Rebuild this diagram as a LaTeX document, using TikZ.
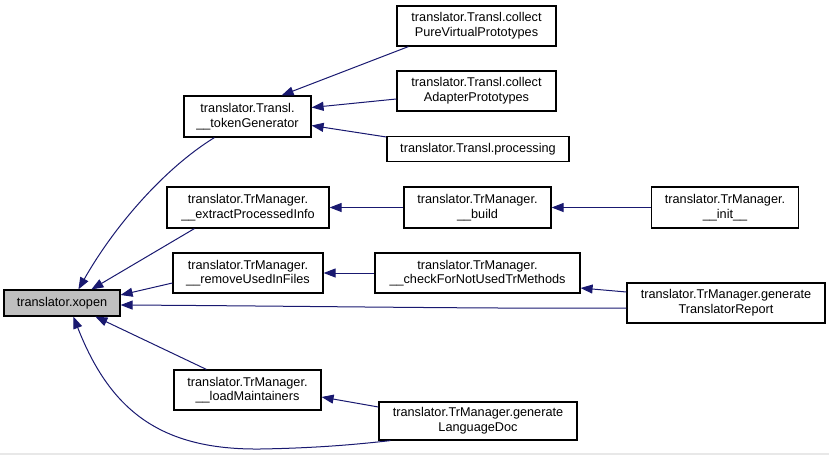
\documentclass[tikz,border=0pt]{standalone}
\usepackage{fontspec}
\setmainfont{Liberation Sans}
\usetikzlibrary{arrows.meta,calc}
\definecolor{edgecol}{HTML}{191970}
\definecolor{xfill}{HTML}{BFBFBF}
\definecolor{strip}{HTML}{E8E8E8}
\begin{document}
\begin{tikzpicture}[x=1pt,y=-1pt,
  fn/.style={draw=black, line width=1.2pt, fill=white, align=center, inner sep=0pt,
    font=\fontsize{12.7}{14.6}\selectfont},
  edge/.style={draw=edgecol, line width=1pt, {Triangle[length=12pt,width=9pt]}-}]
\useasboundingbox (0,0) rectangle (829,455);
\fill[strip] (0,452.5) rectangle (829,455);
% nodes
\node[fn, fill=xfill, minimum width=116pt, minimum height=26pt] (xopen) at (62,303) {translator.xopen};
\node[fn, minimum width=127pt, minimum height=41pt] (tok) at (247.5,116.5) {translator.Transl.\\\_\_tokenGenerator};
\node[fn, minimum width=159pt, minimum height=40pt] (pvp) at (476.5,26) {translator.Transl.collect\\PureVirtualPrototypes};
\node[fn, minimum width=159pt, minimum height=40pt] (cap) at (476.5,91) {translator.Transl.collect\\AdapterPrototypes};
\node[fn, minimum width=182pt, minimum height=25pt] (proc) at (478,149) {translator.Transl.processing};
\node[fn, minimum width=162pt, minimum height=41pt] (epi) at (248,207.5) {translator.TrManager.\\\_\_extractProcessedInfo};
\node[fn, minimum width=147pt, minimum height=41pt] (build) at (477.5,207.5) {translator.TrManager.\\\_\_build};
\node[fn, minimum width=147pt, minimum height=41pt] (init) at (725,207.5) {translator.TrManager.\\\_\_init\_\_};
\node[fn, minimum width=150pt, minimum height=40pt] (rui) at (248,273) {translator.TrManager.\\\_\_removeUsedInFiles};
\node[fn, minimum width=205pt, minimum height=40pt] (cfn) at (477.5,273) {translator.TrManager.\\\_\_checkForNotUsedTrMethods};
\node[fn, minimum width=198pt, minimum height=40pt] (gtr) at (726,303) {translator.TrManager.generate\\TranslatorReport};
\node[fn, minimum width=147pt, minimum height=40pt] (lm) at (247.5,390) {translator.TrManager.\\\_\_loadMaintainers};
\node[fn, minimum width=198pt, minimum height=38pt] (gld) at (478,421) {translator.TrManager.generate\\LanguageDoc};
% edges into xopen
\draw[edge] ($(xopen.north west)+(75,0)$) .. controls (115,225) and (165,168) .. ($(tok.south west)+(31,0)$);
\draw[edge] ($(xopen.north west)+(88,0)$) -- ($(epi.south west)+(28,0)$);
\draw[edge] ($(xopen.east)+(0,-8)$) -- ($(rui.west)+(0,10)$);
\draw[edge] ($(xopen.east)+(0,2)$) .. controls (300,306) and (500,309) .. ($(gtr.west)+(0,5)$);
\draw[edge] ($(xopen.south west)+(92,0)$) -- ($(lm.north west)+(33,0)$);
\draw[edge] ($(xopen.south west)+(70,0)$) .. controls (110,410) and (160,450) .. (260,449) .. controls (320,448) and (360,444) .. ($(gld.south west)+(12,0)$);
% edges into tokenGenerator
\draw[edge] ($(tok.north east)+(-30,0)$) -- ($(pvp.south west)+(12,0)$);
\draw[edge] ($(tok.east)+(0,-9)$) -- ($(cap.west)+(0,8)$);
\draw[edge] ($(tok.east)+(0,9)$) -- ($(proc.west)+(0,-12)$);
% other edges
\draw[edge] (epi.east) -- (build.west);
\draw[edge] (build.east) -- (init.west);
\draw[edge] (rui.east) -- (cfn.west);
\draw[edge] ($(cfn.east)+(0,15)$) -- ($(gtr.west)+(0,-11)$);
\draw[edge] ($(lm.east)+(0,7)$) -- ($(gld.west)+(0,-14)$);
\end{tikzpicture}
\end{document}
